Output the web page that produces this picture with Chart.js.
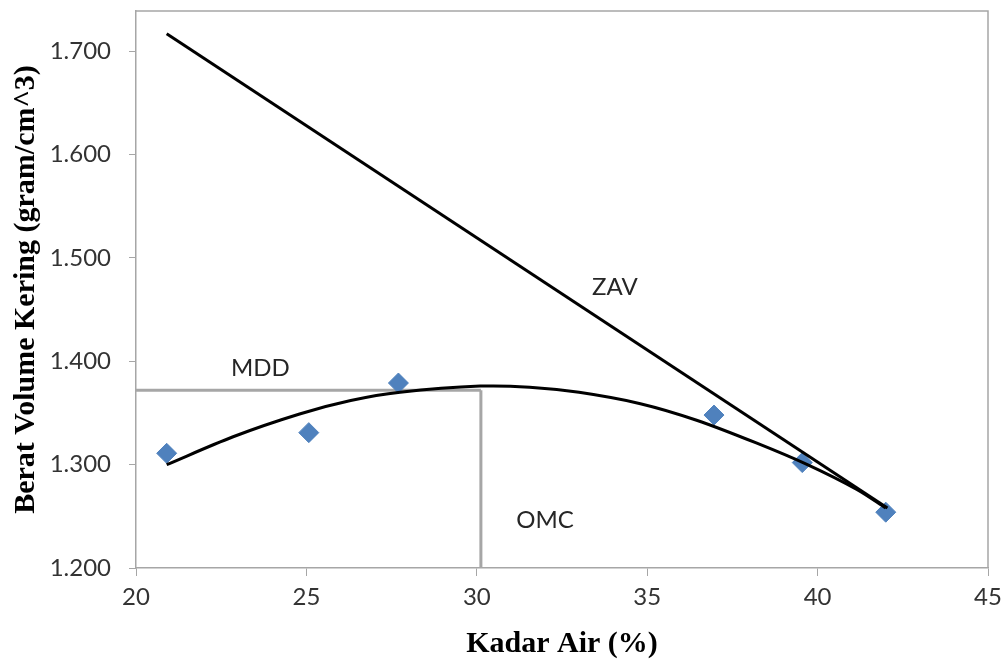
<!DOCTYPE html>
<html>
<head>
<meta charset="utf-8">
<script src="https://cdn.jsdelivr.net/npm/chart.js@4"></script>
<style>
  body { margin: 0; background: #fff; }
  #wrap { width: 1006px; height: 662px; }
</style>
</head>
<body>
<div id="wrap"><canvas id="chart" width="1006" height="662"></canvas></div>
<script>
// measured points (kadar air %, berat volume kering)
const waterContent = [20.9, 25.07, 27.7, 36.96, 39.55, 42.0];
const dryDensity = [1.311, 1.331, 1.379, 1.348, 1.302, 1.254];

// trend curve
const trendX = [20.9, 22.85, 24.8, 26.3, 27.75, 30.1, 31.55, 33.0, 34.8, 36.45, 38.2, 39.7, 41.15, 42.0];
const trendY = [1.300, 1.327, 1.349, 1.362, 1.370, 1.376, 1.375, 1.370, 1.359, 1.343, 1.321, 1.300, 1.276, 1.258];

// zero air void line
const zavX = [20.9, 42.05];
const zavY = [1.717, 1.258];

// MDD / OMC guide lines
const mddX = [20, 30.12];
const mddY = [1.372, 1.372];
const omcX = [30.12, 30.12];
const omcY = [1.372, 1.2];

const labelText = ['MDD', 'ZAV', 'OMC'];
const labelX = [23.65, 34.05, 32.0];
const labelY = [1.393, 1.472, 1.246];

const xTicks = [20, 25, 30, 35, 40, 45];
const yTicks = [1.2, 1.3, 1.4, 1.5, 1.6, 1.7];

const toPoints = (xs, ys) => xs.map((x, i) => ({ x: x, y: ys[i] }));

const axisGray = '#a6a6a6';
const tickFont = { family: 'Lato', size: 24 };
const titleFont = { family: 'Liberation Serif', size: 30, weight: 'bold' };

const framePlugin = {
    id: 'frame',
    beforeDatasetsDraw(chart) {
        const { ctx, chartArea } = chart;
        ctx.save();
        ctx.strokeStyle = axisGray;
        ctx.lineWidth = 1.5;
        ctx.beginPath();
        ctx.moveTo(chartArea.left, chartArea.top);
        ctx.lineTo(chartArea.right, chartArea.top);
        ctx.lineTo(chartArea.right, chartArea.bottom);
        ctx.stroke();
        ctx.restore();
    },
    afterDraw(chart) {
        const { ctx } = chart;
        const xs = chart.scales.x, ys = chart.scales.y;
        ctx.save();
        ctx.font = '24px Lato';
        ctx.fillStyle = '#262626';
        ctx.textAlign = 'center';
        ctx.textBaseline = 'middle';
        labelText.forEach((t, i) => {
            ctx.fillText(t, xs.getPixelForValue(labelX[i]), ys.getPixelForValue(labelY[i]));
        });
        ctx.restore();
    }
};

new Chart(document.getElementById('chart'), {
    type: 'scatter',
    data: {
        datasets: [
            {
                label: 'Trend',
                data: toPoints(trendX, trendY),
                showLine: true,
                borderColor: '#000',
                borderWidth: 3,
                pointRadius: 0,
                tension: 0.3
            },
            {
                label: 'ZAV',
                data: toPoints(zavX, zavY),
                showLine: true,
                borderColor: '#000',
                borderWidth: 3,
                pointRadius: 0
            },
            {
                label: 'Data',
                data: toPoints(waterContent, dryDensity),
                pointStyle: 'rectRot',
                pointRadius: 10,
                backgroundColor: '#4f81bd',
                borderColor: '#4f81bd',
                borderWidth: 1
            },
            {
                label: 'MDD',
                data: toPoints(mddX, mddY),
                showLine: true,
                borderColor: axisGray,
                borderWidth: 3,
                pointRadius: 0
            },
            {
                label: 'OMC',
                data: toPoints(omcX, omcY),
                showLine: true,
                borderColor: axisGray,
                borderWidth: 3,
                pointRadius: 0
            }
        ]
    },
    options: {
        responsive: false,
        animation: false,
        layout: { padding: { left: 0, right: 18, top: 11, bottom: 0 } },
        plugins: { legend: { display: false }, tooltip: { enabled: false } },
        scales: {
            x: {
                type: 'linear',
                min: 20,
                max: 45,
                afterBuildTicks: s => { s.ticks = xTicks.map(v => ({ value: v })); },
                afterFit: s => { s.height = 94; s.paddingLeft = 0; s.paddingRight = 0; },
                grid: { drawOnChartArea: false, color: axisGray, tickLength: 8 },
                border: { color: axisGray, width: 1.5 },
                ticks: { font: tickFont, color: '#333', padding: 7, maxRotation: 0 },
                title: { display: true, text: 'Kadar Air (%)', font: titleFont, color: '#000', padding: { top: 0, bottom: 0 } }
            },
            y: {
                min: 1.2,
                max: 1.739,
                afterBuildTicks: s => { s.ticks = yTicks.map(v => ({ value: v })); },
                afterFit: s => { s.width = 136; s.paddingTop = 0; s.paddingBottom = 0; },
                grid: { drawOnChartArea: false, color: axisGray, tickLength: 7 },
                border: { color: axisGray, width: 1.5 },
                ticks: { font: tickFont, color: '#333', padding: 18, callback: v => v.toFixed(3) },
                title: { display: true, text: 'Berat Volume Kering (gram/cm^3)', font: titleFont, color: '#000', padding: { top: 8, bottom: 0 } }
            }
        }
    },
    plugins: [framePlugin]
});
</script>
</body>
</html>
